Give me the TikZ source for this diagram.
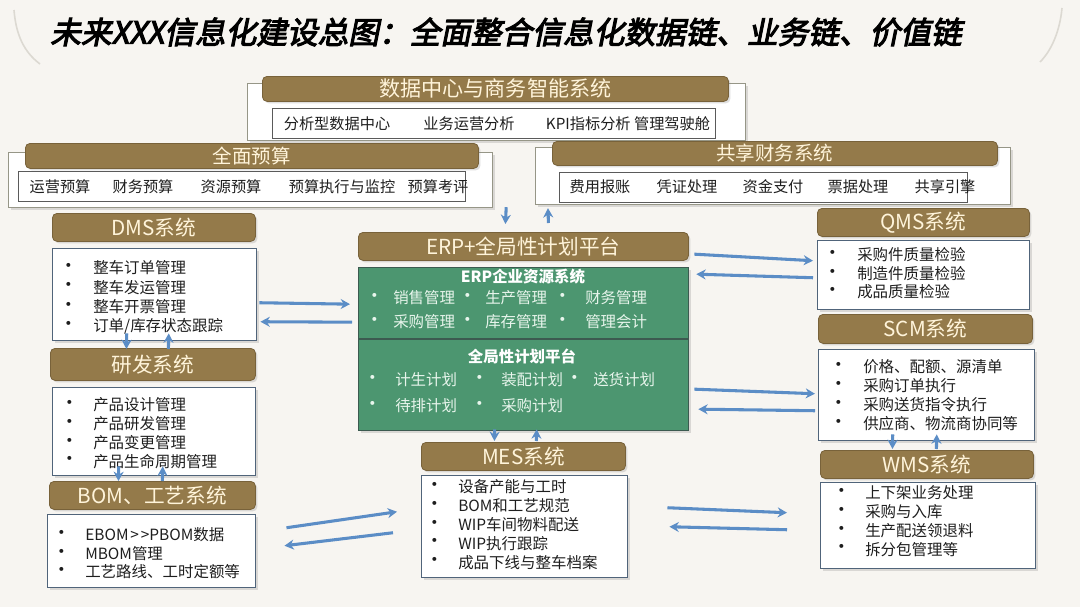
\documentclass[tikz,border=0pt]{standalone}
\usepackage{fontspec}
\setmainfont{Noto Sans CJK SC}
\newfontfamily\titlef[FakeSlant=0.2,FakeBold=3.5]{Noto Sans CJK SC}
\usetikzlibrary{arrows.meta,shadows}
\definecolor{bgc}{RGB}{247,245,241}
\definecolor{hbrown}{RGB}{148,122,74}
\definecolor{hbrownd}{RGB}{120,98,58}
\definecolor{cream}{RGB}{255,244,218}
\definecolor{greenc}{RGB}{76,150,112}
\definecolor{greenline}{RGB}{60,90,80}
\definecolor{greentext}{RGB}{232,245,236}
\definecolor{boxline}{RGB}{80,100,122}
\definecolor{framegray}{RGB}{150,150,135}
\definecolor{inline}{RGB}{90,90,90}
\definecolor{itemc}{RGB}{30,30,30}
\definecolor{arrowc}{RGB}{91,141,198}
\definecolor{decor}{RGB}{220,217,210}
\tikzset{
  sz/.style 2 args={minimum width=#1*0.75pt, minimum height=#2*0.75pt},
  shad/.style={drop shadow={opacity=0.25, shadow xshift=1.5pt, shadow yshift=-1.5pt}},
  headbar/.style={fill=hbrown, draw=hbrownd, line width=0.6pt, rounded corners=3.5pt, text=cream,
    font=\fontsize{15.5}{17}\selectfont, inner sep=0pt, anchor=north west, shad},
  frame/.style={fill=white, draw=framegray, line width=0.9pt, anchor=north west, inner sep=0pt, shad},
  inbox/.style={fill=white, draw=inline, line width=0.6pt, anchor=north west, inner sep=0pt},
  listbox/.style={fill=white, draw=boxline, line width=1.1pt, anchor=north west, inner sep=0pt, shad},
  greenbox/.style={fill=greenc, draw=greenline, line width=1pt, anchor=north west, inner sep=0pt, shad},
  divline/.style={draw=greenline, line width=0.9pt},
  topitem/.style={font=\fontsize{11.4}{13}\selectfont, text=itemc, inner sep=0pt},
  itm/.style={font=\fontsize{11.6}{13}\selectfont, text=itemc, inner sep=0pt, anchor=west},
  bul/.style={font=\fontsize{14}{14}\selectfont, text=itemc, inner sep=0pt},
  gitm/.style={font=\fontsize{11.6}{13}\selectfont, text=greentext, inner sep=0pt, anchor=west},
  gbul/.style={font=\fontsize{14}{14}\selectfont, text=greentext, inner sep=0pt},
  gtitle/.style={font=\bfseries\fontsize{11.6}{13}\selectfont, text=white, inner sep=0pt},
  flow/.style={draw=arrowc, line width=2.3pt, -{Stealth[length=7pt,width=7.5pt]}},
}
\begin{document}
\begin{tikzpicture}[x=0.75pt,y=-0.75pt]
\useasboundingbox (0,0) rectangle (1080,607);
\fill[bgc] (0,0) rectangle (1080,607);
% faint decorative swooshes
\draw[decor, line width=1.2pt] (14,10) .. controls (16,35) and (24,52) .. (40,64);
\draw[decor, line width=1.2pt] (1062,8) .. controls (1060,30) and (1052,50) .. (1040,62);

% title
\node[anchor=west, inner sep=0pt, font=\titlef\fontsize{23}{25}\selectfont, text=black] (title) at (50,32)
  {未来XXX信息化建设总图：全面整合信息化数据链、业务链、价值链};

% ---------- data centre ----------
\node[frame, sz={498}{57}] (dc) at (247,83) {};
\node[headbar, sz={466}{25}, font=\fontsize{15.8}{17}\selectfont] (dch) at (262,76) {数据中心与商务智能系统};
\node[inbox, sz={443}{30}] (dci) at (272,108) {};
\node[topitem] (dc1) at (337,124) {分析型数据中心};
\node[topitem] (dc2) at (469,124) {业务运营分析};
\node[topitem] (dc3) at (628,124) {KPI指标分析 管理驾驶舱};

% ---------- budget ----------
\node[frame, sz={484}{55}] (bg) at (8,152) {};
\node[headbar, sz={453}{25}, font=\fontsize{14.6}{16}\selectfont] (bgh) at (25,143) {全面预算};
\node[inbox, sz={447}{30}] (bgi) at (18,171) {};
\node[topitem] (bg1) at (60,187) {运营预算};
\node[topitem] (bg2) at (143,187) {财务预算};
\node[topitem] (bg3) at (231,187) {资源预算};
\node[topitem] (bg4) at (342,187) {预算执行与监控};
\node[topitem] (bg5) at (438,187) {预算考评};

% ---------- shared finance ----------
\node[frame, sz={475}{57}] (sf) at (535,147) {};
\node[headbar, sz={445}{24}, font=\fontsize{14.6}{16}\selectfont] (sfh) at (552,141) {共享财务系统};
\node[inbox, sz={408}{30}] (sfi) at (559,172) {};
\node[topitem] (sf1) at (600,187) {费用报账};
\node[topitem] (sf2) at (687,187) {凭证处理};
\node[topitem] (sf3) at (773,187) {资金支付};
\node[topitem] (sf4) at (858,187) {票据处理};
\node[topitem] (sf5) at (945,187) {共享引擎};

% ---------- ERP ----------
\node[headbar, sz={330}{28}] (erph) at (358,232) {ERP+全局性计划平台};
\node[greenbox, sz={330}{163}] (erp) at (358,267) {};
\draw[divline] ([shift={(0,72)}]erp.north west) -- ([shift={(0,72)}]erp.north east);
\node[gtitle] (erpt1) at (523,277) {ERP企业资源系统};
\node[gbul] (eb1) at (375,298) {\textbullet};
\node[gitm] (et1) at (393,298) {销售管理};
\node[gbul] (eb2) at (468,298) {\textbullet};
\node[gitm] (et2) at (485,298) {生产管理};
\node[gbul] (eb3) at (563,298) {\textbullet};
\node[gitm] (et3) at (585,298) {财务管理};
\node[gbul] (eb4) at (375,322) {\textbullet};
\node[gitm] (et4) at (393,322) {采购管理};
\node[gbul] (eb5) at (468,322) {\textbullet};
\node[gitm] (et5) at (485,322) {库存管理};
\node[gbul] (eb6) at (563,322) {\textbullet};
\node[gitm] (et6) at (585,322) {管理会计};
\node[gtitle] (erpt2) at (522,356) {全局性计划平台};
\node[gbul] (pb1) at (373,380) {\textbullet};
\node[gitm] (pt1) at (395,380) {计生计划};
\node[gbul] (pb2) at (480,380) {\textbullet};
\node[gitm] (pt2) at (501,380) {装配计划};
\node[gbul] (pb3) at (575,380) {\textbullet};
\node[gitm] (pt3) at (593,380) {送货计划};
\node[gbul] (pb4) at (373,406) {\textbullet};
\node[gitm] (pt4) at (395,406) {待排计划};
\node[gbul] (pb5) at (480,406) {\textbullet};
\node[gitm] (pt5) at (501,406) {采购计划};

% ---------- DMS ----------
\node[headbar, sz={203}{28}] (dmsh) at (52,213) {DMS系统};
\node[listbox, sz={204}{92}] (dms) at (52,248) {};
\foreach \txt [count=\i] in {整车订单管理,整车发运管理,整车开票管理,订单/库存状态跟踪} {
  \node[bul] (dmsb\i) at (69,{268+(\i-1)*19.3}) {\textbullet};
  \node[itm] (dmst\i) at (93,{268+(\i-1)*19.3}) {\txt};
}

% ---------- R&D ----------
\node[headbar, sz={205}{32}] (rdh) at (50,348) {研发系统};
\node[listbox, sz={203}{88}] (rd) at (52,387) {};
\foreach \txt [count=\i] in {产品设计管理,产品研发管理,产品变更管理,产品生命周期管理} {
  \node[bul] (rdb\i) at (70,{405+(\i-1)*18.8}) {\textbullet};
  \node[itm] (rdt\i) at (93,{405+(\i-1)*18.8}) {\txt};
}

% ---------- BOM ----------
\node[headbar, sz={206}{28}] (bomh) at (49,481) {BOM、工艺系统};
\node[listbox, sz={208}{73}] (bom) at (47,514) {};
\node[bul] (bomb1) at (62,535) {\textbullet};
\node[itm] (bomt1) at (85,535) {EBOM\kern0.12em>\kern0.12em>PBOM数据};
\node[bul] (bomb2) at (62,553.5) {\textbullet};
\node[itm] (bomt2) at (85,553.5) {MBOM管理};
\node[bul] (bomb3) at (62,572) {\textbullet};
\node[itm] (bomt3) at (85,572) {工艺路线、工时定额等};

% ---------- MES ----------
\node[headbar, sz={204}{28}] (mesh) at (421,442) {MES系统};
\node[listbox, sz={206}{102}] (mes) at (421,475) {};
\foreach \txt [count=\i] in {设备产能与工时,BOM和工艺规范,WIP车间物料配送,WIP执行跟踪,成品下线与整车档案} {
  \node[bul] (mesb\i) at (435,{487+(\i-1)*18.8}) {\textbullet};
  \node[itm] (mest\i) at (458,{487+(\i-1)*18.8}) {\txt};
}

% ---------- QMS ----------
\node[headbar, sz={212}{28}] (qmsh) at (817,208) {QMS系统};
\node[listbox, sz={212}{69}] (qms) at (817,240) {};
\foreach \txt [count=\i] in {采购件质量检验,制造件质量检验,成品质量检验} {
  \node[bul] (qmsb\i) at (833,{255+(\i-1)*18.5}) {\textbullet};
  \node[itm] (qmst\i) at (857,{255+(\i-1)*18.5}) {\txt};
}

% ---------- SCM ----------
\node[headbar, sz={214}{29}] (scmh) at (818,314) {SCM系统};
\node[listbox, sz={216}{91}] (scm) at (818,349) {};
\foreach \txt [count=\i] in {价格、配额、源清单,采购订单执行,采购送货指令执行,供应商、物流商协同等} {
  \node[bul] (scmb\i) at (839,{367+(\i-1)*19}) {\textbullet};
  \node[itm] (scmt\i) at (863,{367+(\i-1)*19}) {\txt};
}

% ---------- WMS ----------
\node[headbar, sz={213}{28}] (wmsh) at (820,450) {WMS系统};
\node[listbox, sz={215}{86}] (wms) at (820,482) {};
\foreach \txt [count=\i] in {上下架业务处理,采购与入库,生产配送领退料,拆分包管理等} {
  \node[bul] (wmsb\i) at (842,{493+(\i-1)*18.8}) {\textbullet};
  \node[itm] (wmst\i) at (865,{493+(\i-1)*18.8}) {\txt};
}

% ---------- connectors ----------
\draw[flow] ([shift={(13,-1)}]bg.south east) -- ([shift={(-18,-8)}]erph.north);
\draw[flow] ([shift={(25,-9)}]erph.north) -- ([shift={(13,3)}]sf.south west);
\draw[flow] ([shift={(2,8)}]dms.east) -- ([shift={(-8,-45)}]erp.west);
\draw[flow] ([shift={(-6,-27)}]erp.west) -- ([shift={(3,27)}]dms.east);
\draw[flow] ([shift={(-28,-8)}]dms.south) -- ([shift={(-26.5,1)}]rdh.north);
\draw[flow] ([shift={(15.5,1)}]rdh.north) -- ([shift={(14,-8)}]dms.south);
\draw[flow] ([shift={(-35.5,-10)}]rd.south) -- ([shift={(-34,0)}]bomh.north);
\draw[flow] ([shift={(10,0)}]bomh.north) -- ([shift={(8.5,-10)}]rd.south);
\draw[flow] ([shift={(30,-23.5)}]bom.east) -- ([shift={(-24,-15)}]mes.west);
\draw[flow] ([shift={(-28,6)}]mes.west) -- ([shift={(28,-5.5)}]bom.east);
\draw[flow] ([shift={(-29,-2)}]erp.south) -- ([shift={(-29,-1)}]mesh.north);
\draw[flow] ([shift={(13,-1)}]mesh.north) -- ([shift={(13,-2)}]erp.south);
\draw[flow] ([shift={(39,-19)}]mes.east) -- ([shift={(-33,-13)}]wms.west);
\draw[flow] ([shift={(-33,4)}]wms.west) -- ([shift={(41,0)}]mes.east);
\draw[flow] ([shift={(5,-95)}]erp.east) -- ([shift={(-4,-14.5)}]qms.west);
\draw[flow] ([shift={(-4,2.5)}]qms.west) -- ([shift={(7,-75)}]erp.east);
\draw[flow] ([shift={(5,40)}]erp.east) -- ([shift={(-3,-1.5)}]scm.west);
\draw[flow] ([shift={(-3,15.5)}]scm.west) -- ([shift={(9,60)}]erp.east);
\draw[flow] ([shift={(-34,-7)}]scm.south) -- ([shift={(-34.5,-1)}]wmsh.north);
\draw[flow] ([shift={(9.5,-1)}]wmsh.north) -- ([shift={(10,-7)}]scm.south);
\end{tikzpicture}
\end{document}
